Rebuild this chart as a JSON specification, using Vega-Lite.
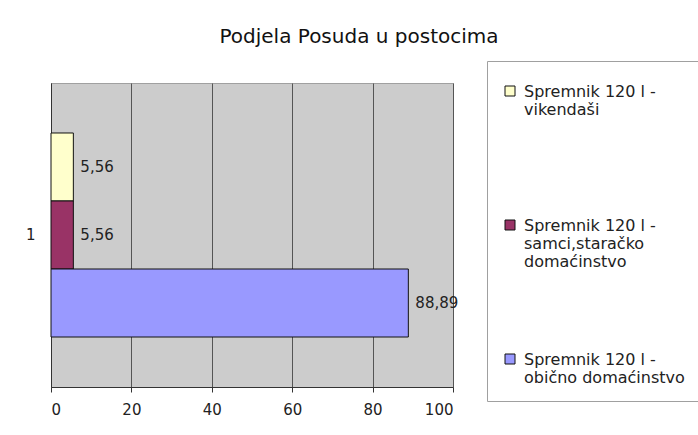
{
  "$schema": "https://vega.github.io/schema/vega-lite/v6.json",
  "width": 402,
  "height": 304,
  "autosize": {"type": "none"},
  "padding": {"left": 51, "top": 83, "right": 245, "bottom": 48},
  "background": "white",
  "title": {
    "text": "Podjela Posuda u postocima",
    "anchor": "middle",
    "dx": 107,
    "offset": 14,
    "font": "DejaVu Sans",
    "fontSize": 20,
    "fontWeight": "normal",
    "color": "#111111"
  },
  "config": {
    "locale": {"number": {"decimal": ",", "thousands": ".", "grouping": [3], "currency": ["", ""]}},
    "view": {"fill": "#CCCCCC", "stroke": "#A0A0A0"},
    "font": "DejaVu Sans"
  },
  "data": {
    "values": [
      {"kat": "1", "posuda": "Spremnik 120 l - vikendaši", "postotak": 5.56},
      {"kat": "1", "posuda": "Spremnik 120 l - samci,staračko domaćinstvo", "postotak": 5.56},
      {"kat": "1", "posuda": "Spremnik 120 l - obično domaćinstvo", "postotak": 88.89}
    ]
  },
  "encoding": {
    "y": {
      "field": "kat",
      "type": "nominal",
      "scale": {"paddingInner": 0, "paddingOuter": 0.245},
      "axis": {
        "title": null,
        "ticks": false,
        "labelPadding": 16,
        "labelFontSize": 15,
        "labelColor": "#222222",
        "domainColor": "#333333",
        "labelAngle": 0
      }
    },
    "yOffset": {
      "field": "posuda",
      "type": "nominal",
      "sort": [
        "Spremnik 120 l - vikendaši",
        "Spremnik 120 l - samci,staračko domaćinstvo",
        "Spremnik 120 l - obično domaćinstvo"
      ],
      "scale": {"paddingInner": 0, "paddingOuter": 0}
    },
    "x": {
      "field": "postotak",
      "type": "quantitative",
      "scale": {"domain": [0, 100]},
      "axis": {
        "title": null,
        "values": [0, 20, 40, 60, 80, 100],
        "format": "d",
        "grid": true,
        "gridColor": "#555555",
        "gridWidth": 1,
        "tickColor": "#333333",
        "tickSize": 5,
        "domainColor": "#333333",
        "labelFontSize": 15,
        "labelColor": "#222222",
        "labelPadding": 10
      }
    }
  },
  "layer": [
    {
      "mark": {"type": "bar", "stroke": "#111111", "strokeWidth": 1},
      "encoding": {
        "color": {
          "field": "posuda",
          "type": "nominal",
          "scale": {
            "domain": [
              "Spremnik 120 l - vikendaši",
              "Spremnik 120 l - samci,staračko domaćinstvo",
              "Spremnik 120 l - obično domaćinstvo"
            ],
            "range": ["#FFFFCC", "#993366", "#9999FF"]
          },
          "legend": {
            "title": null,
            "orient": "none",
            "legendX": 436,
            "legendY": -22,
            "padding": 15,
            "strokeColor": "#A0A0A0",
            "symbolType": "M-1,0.4H1V2.4H-1Z",
            "symbolSize": 100,
            "symbolStrokeColor": "#111111",
            "symbolStrokeWidth": 1,
            "labelFontSize": 16,
            "labelColor": "#222222",
            "labelBaseline": "top",
            "labelOffset": 6,
            "labelLimit": 400,
            "gridAlign": "all",
            "rowPadding": 74,
            "labelExpr": "datum.label == 'Spremnik 120 l - vikendaši' ? ['Spremnik 120 l -', 'vikendaši'] : datum.label == 'Spremnik 120 l - samci,staračko domaćinstvo' ? ['Spremnik 120 l -', 'samci,staračko', 'domaćinstvo'] : ['Spremnik 120 l -', 'obično domaćinstvo']"
          }
        }
      }
    },
    {
      "mark": {"type": "text", "align": "left", "baseline": "middle", "dx": 7, "fontSize": 15, "color": "#222222"},
      "encoding": {
        "text": {"field": "postotak", "type": "quantitative", "format": ".2f"}
      }
    }
  ]
}
